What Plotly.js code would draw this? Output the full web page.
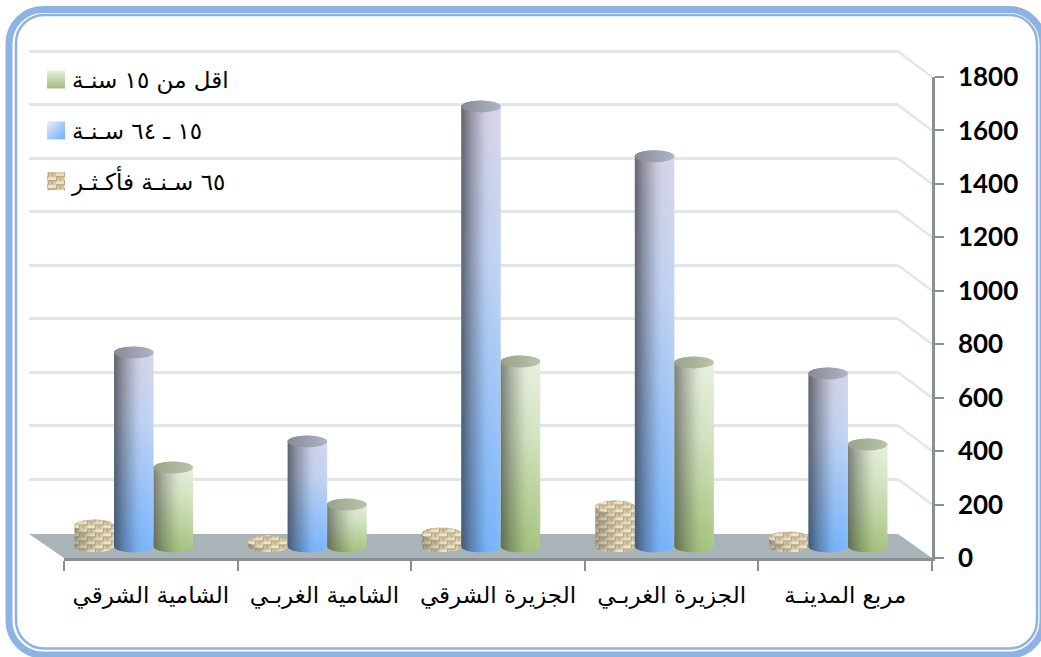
<!DOCTYPE html>
<html>
<head>
<meta charset="utf-8">
<script src="https://cdn.plot.ly/plotly-3.0.1.min.js"></script>
<style>html,body{margin:0;padding:0;background:#fff;}#chart{width:1041px;height:657px;}</style>
</head>
<body>
<div id="chart"></div>
<script>
const categories = ["الشامية الشرقي","الشامية الغربـي","الجزيرة الشرقي","الجزيرة الغربـي","مربع المدينـة"];
const seriesNames = ["٦٥ سـنـة فأكـثـر","١٥ ـ ٦٤ سـنـة","اقل من ١٥ سنـة"];
const over65 = [79,19,49,150,34];
const age15to64 = [726,393,1647,1460,647];
const under15 = [296,157,692,689,382];
const yTicks = [0,200,400,600,800,1000,1200,1400,1600,1800];
const yMax = 1800;
const backMax = 1850;

const W = 1041, H = 657;
const px = x => x / W, py = y => 1 - y / H;
const dom = (a,b) => [px(a), px(b)];
const domY = (bottom,top) => [py(bottom), py(top)];
const FRONT = {x0:64,x1:932,y0:558,y1:77};
const BACK  = {x0:29,x1:898,y0:532.5,y1:51.5};
const BARS  = {x0:47,x1:915,y0:546.5,y1:65.5};
const AR = '"DejaVu Sans", sans-serif';
const gridColor = '#e1e6ee';

function rrect(l,t,r,b,rad){
  const k = rad*0.45;
  const P=(x,y)=>px(x)+','+py(y);
  return 'M'+P(l+rad,t)+' L'+P(r-rad,t)+' C'+P(r-k,t)+' '+P(r,t+k)+' '+P(r,t+rad)+
    ' L'+P(r,b-rad)+' C'+P(r,b-k)+' '+P(r-k,b)+' '+P(r-rad,b)+
    ' L'+P(l+rad,b)+' C'+P(l+k,b)+' '+P(l,b-k)+' '+P(l,b-rad)+
    ' L'+P(l,t+rad)+' C'+P(l,t+k)+' '+P(l+k,t)+' '+P(l+rad,t)+' Z';
}
const frameColor = '#8db3e2';
const shapes = [
  {type:'path',xref:'paper',yref:'paper',layer:'below',path:rrect(9,9.5,1043,655,34),line:{color:frameColor,width:7},fillcolor:'#fff'},
  {type:'path',xref:'paper',yref:'paper',layer:'below',path:rrect(16,15,1037,648.5,28),line:{color:frameColor,width:2.5},fillcolor:'#fff'},
  {type:'path',xref:'paper',yref:'paper',layer:'below',
   path:'M'+px(BACK.x0)+','+py(534)+' L'+px(BACK.x1)+','+py(534)+' L'+px(FRONT.x1)+','+py(FRONT.y0)+' L'+px(FRONT.x0)+','+py(FRONT.y0)+' Z',
   line:{width:0},fillcolor:'#a9b4b8'}
];
yTicks.filter(v=>v>0).forEach(v=>{
  const f=v/yMax;
  shapes.push({type:'line',xref:'paper',yref:'paper',layer:'below',
    x0:px(BACK.x1),x1:px(FRONT.x1),
    y0:py(BACK.y0+(BACK.y1-BACK.y0)*f),y1:py(FRONT.y0+(FRONT.y1-FRONT.y0)*f),
    line:{color:gridColor,width:2.5}});
});

function barTrace(name,vals,rank){
  return {type:'bar',name:name,x:categories,y:vals,xaxis:'x2',yaxis:'y2',legendgroup:'g'+rank,legendrank:rank,
    cliponaxis:false,marker:{color:'#888',line:{width:0}},hoverinfo:'y+name'};
}
const data = [
  barTrace(seriesNames[0],over65,3),
  barTrace(seriesNames[1],age15to64,2),
  barTrace(seriesNames[2],under15,1),
  {type:'scatter',mode:'none',x:categories,y:categories.map(()=>0),xaxis:'x3',yaxis:'y3',showlegend:false,hoverinfo:'skip'},
  {type:'scatter',mode:'none',x:categories,y:categories.map(()=>0),xaxis:'x',yaxis:'y',showlegend:false,hoverinfo:'skip'}
];
const hidden = {visible:false,showgrid:false,zeroline:false,fixedrange:true};
const backTop = BACK.y0+(BACK.y1-BACK.y0)*backMax/yMax;
const layout = {
  width:W,height:H,margin:{l:0,r:0,t:0,b:0,pad:0},
  paper_bgcolor:'#fff',plot_bgcolor:'rgba(0,0,0,0)',
  showlegend:true,barmode:'group',bargap:0.317,bargroupgap:0,
  legend:{x:px(36),y:py(58),xanchor:'left',yanchor:'top',bgcolor:'rgba(0,0,0,0)',
    traceorder:'grouped',tracegroupgap:18,font:{family:AR,size:23,color:'#000'}},
  xaxis:Object.assign({},hidden,{domain:dom(BACK.x0,BACK.x1),anchor:'y',type:'category',range:[-0.5,4.5]}),
  yaxis:{domain:domY(BACK.y0,backTop),anchor:'x',range:[0,backMax],tickvals:yTicks.filter(v=>v>0),
    showgrid:true,gridcolor:gridColor,gridwidth:2.5,showticklabels:false,ticks:'',zeroline:false,showline:false,fixedrange:true},
  xaxis2:Object.assign({},hidden,{domain:dom(BARS.x0,BARS.x1),anchor:'y2',type:'category',range:[-0.5,4.5]}),
  yaxis2:Object.assign({},hidden,{domain:domY(BARS.y0,BARS.y1),anchor:'x2',range:[0,yMax]}),
  xaxis3:{domain:dom(FRONT.x0,FRONT.x1),anchor:'y3',type:'category',categoryorder:'array',categoryarray:categories,range:[-0.5,4.5],
    tickson:'boundaries',ticks:'outside',ticklen:10,tickwidth:1.5,tickcolor:'#8a8f91',showline:true,linecolor:'#8a8f91',linewidth:3,
    showgrid:false,zeroline:false,tickangle:0,ticklabelstandoff:14,fixedrange:true,
    tickfont:{family:AR,size:23,color:'#000'}},
  yaxis3:{domain:domY(FRONT.y0,FRONT.y1),anchor:'x3',side:'right',range:[0,yMax],tickvals:yTicks,ticktext:yTicks.map(String),
    ticks:'outside',ticklen:9,tickwidth:2,tickcolor:'#8a8f91',showline:true,linecolor:'#8a8f91',linewidth:2.5,
    showgrid:false,zeroline:false,ticklabelstandoff:9,fixedrange:true,
    tickfont:{family:'Lato, "Open Sans", sans-serif',size:26,color:'#000',weight:700}},
  shapes:shapes
};

function defs(svg){
  const NS='http://www.w3.org/2000/svg';
  const d=document.createElementNS(NS,'defs');
  function grad(id,x2,y2,stops){
    const g=document.createElementNS(NS,'linearGradient');
    g.setAttribute('id',id);g.setAttribute('x1','0');g.setAttribute('y1','0');g.setAttribute('x2',x2);g.setAttribute('y2',y2);
    stops.forEach(s=>{const e=document.createElementNS(NS,'stop');e.setAttribute('offset',s[0]);e.setAttribute('stop-color',s[1]);
      if(s[2]!==undefined)e.setAttribute('stop-opacity',s[2]);g.appendChild(e);});
    d.appendChild(g);
  }
  grad('gBlue',0,1,[[0,'#d6d3e6'],[0.35,'#c0d2f2'],[1,'#74b3fb']]);
  grad('gGreen',0,1,[[0,'#e9f1e0'],[0.4,'#d3e2c0'],[1,'#a3c17a']]);
  grad('shade',1,0,[[0,'#2a2a30',0.66],[0.25,'#2a2a30',0.36],[0.55,'#2a2a30',0.08],[0.8,'#fff',0],[1,'#fff',0.08]]);
  grad('capBlue',1,0,[[0,'#8a8994'],[1,'#aab6c8']]);
  grad('capGreen',1,0,[[0,'#98a38a'],[1,'#b9c4aa']]);
  const p=document.createElementNS(NS,'pattern');
  p.setAttribute('id','tex');p.setAttribute('patternUnits','userSpaceOnUse');p.setAttribute('width','16');p.setAttribute('height','16');
  const rect=(x,y,w,h,c)=>{const r=document.createElementNS(NS,'rect');r.setAttribute('x',x);r.setAttribute('y',y);r.setAttribute('width',w);r.setAttribute('height',h);r.setAttribute('fill',c);p.appendChild(r);};
  rect(0,0,16,16,'#d6c7a4');
  rect(0,0,8,3,'#ebe2ca');rect(8,4,8,3,'#ece4cf');rect(0,8,8,3,'#e7dcc2');rect(8,12,8,3,'#ebe2ca');
  rect(0,3,8,1,'#ad9975');rect(8,7,8,1,'#a8946f');rect(0,11,8,1,'#ad9975');rect(8,15,8,1,'#a8946f');
  rect(8,0,1,4,'#b9a682');rect(0,4,1,4,'#b9a682');rect(8,8,1,4,'#b9a682');rect(0,12,1,4,'#b9a682');
  rect(11,0,2,3,'#c4b28e');rect(3,5,2,3,'#c4b28e');rect(11,9,2,2,'#c4b28e');rect(3,13,2,2,'#c4b28e');
  d.appendChild(p);
  grad('legBlue',1,1,[[0,'#f2e9f8'],[1,'#69aefc']]);
  grad('legGreen',0,1,[[0,'#e6efdc'],[1,'#a3bd7c']]);
  svg.insertBefore(d,svg.firstChild);
}

function cylinders(gd){
  const NS='http://www.w3.org/2000/svg';
  const styles=[{body:'url(#tex)',cap:'url(#tex)',shade:0.45},{body:'url(#gBlue)',cap:'url(#capBlue)',shade:1},{body:'url(#gGreen)',cap:'url(#capGreen)',shade:0.85}];
  gd.querySelectorAll('.barlayer .trace.bars').forEach((tr,i)=>{
    const st=styles[i];
    tr.querySelectorAll('.point path').forEach(path=>{
      const nums=(path.getAttribute('d').match(/-?[\d.]+/g)||[]).map(Number);
      const x0=nums[0],yb=nums[1],yt=nums[2],x1=nums[3];
      const rx=(x1-x0)/2, ry=6;
      const d='M'+x0+','+yt+' V'+yb+' A'+rx+','+ry+' 0 0 0 '+x1+','+yb+' V'+yt+' A'+rx+','+ry+' 0 0 0 '+x0+','+yt+' Z';
      path.removeAttribute('clip-path');
      path.setAttribute('d',d);path.style.fill=st.body;path.style.opacity=1;
      const g=path.parentNode;
      const s=document.createElementNS(NS,'path');s.setAttribute('d',d);s.style.fill='url(#shade)';s.style.opacity=st.shade;g.appendChild(s);
      const c=document.createElementNS(NS,'ellipse');c.setAttribute('cx',x0+rx);c.setAttribute('cy',yt);c.setAttribute('rx',rx);c.setAttribute('ry',ry);c.style.fill=st.cap;g.appendChild(c);
    });
  });
  const leg={[seriesNames[0]]:'url(#tex)',[seriesNames[1]]:'url(#legBlue)',[seriesNames[2]]:'url(#legGreen)'};
  gd.querySelectorAll('.legend .traces').forEach(t=>{
    const tx=t.querySelector('.legendtext');
    const b=t.querySelector('.legendpoints path');
    if(!b||!tx)return;
    b.style.fill=leg[tx.getAttribute('data-unformatted')]||b.style.fill;
    b.style.stroke='none';
    b.setAttribute('d','M9,9H-9V-9H9Z');
    tx.setAttribute('x','36');
  });
}

Plotly.newPlot('chart',data,layout,{displayModeBar:false,responsive:false}).then(gd=>{
  defs(gd.querySelector('.main-svg'));
  cylinders(gd);
});
</script>
</body>
</html>
